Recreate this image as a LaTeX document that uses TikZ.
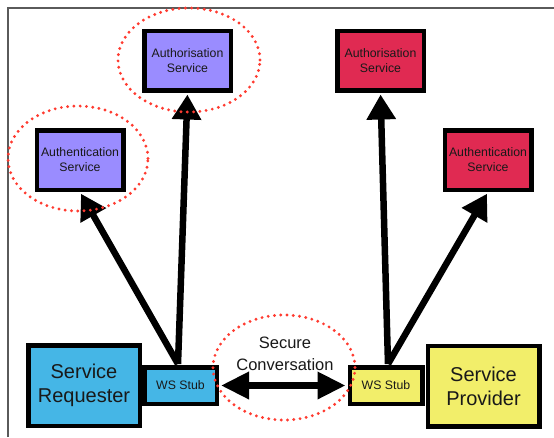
\documentclass[tikz,border=0pt]{standalone}
\usepackage{fontspec}
\setmainfont{Liberation Sans}
\usetikzlibrary{arrows.meta}
\definecolor{violetbox}{HTML}{9A8CFF}
\definecolor{redbox}{HTML}{E02A52}
\definecolor{cyanbox}{HTML}{45B6E6}
\definecolor{yellowbox}{HTML}{F2EE6A}
\definecolor{dotred}{HTML}{FF3B30}
\definecolor{framegray}{HTML}{5A5A5A}
\begin{document}
\begin{tikzpicture}[x=1pt,y=-1pt,
  box/.style={draw=black, line width=4.5pt, inner sep=0pt, align=center, text=black!90},
  smallbox/.style={box, minimum width=86.5pt, minimum height=59.5pt, font=\fontsize{12.3}{15}\selectfont},
  bigbox/.style={box, minimum width=111.5pt, minimum height=80.5pt, font=\fontsize{20}{24}\selectfont},
  stubbox/.style={box, minimum width=72.5pt, minimum height=36.5pt, font=\fontsize{12.3}{14}\selectfont},
  bigarrow/.style={line width=6.5pt, -{Triangle[length=25pt,width=28pt]}, shorten >=2pt},
  dblarrow/.style={line width=6.5pt, {Triangle[length=28pt,width=26pt]}-{Triangle[length=28pt,width=26pt]}, shorten >=2pt, shorten <=2pt},
  dotring/.style={draw=dotred, line width=3.2pt, line cap=round, dash pattern=on 0pt off 6.3pt},
  framestyle/.style={draw=framegray, line width=1.3pt}
]
\useasboundingbox (0,0) rectangle (554,437);
% frame
\coordinate (fbl) at (8,437);
\coordinate (ftl) at (8,8);
\coordinate (ftr) at (554,8);
\draw[framestyle] (fbl) -- (ftl) -- (ftr);

% service boxes
\node[smallbox, fill=violetbox] (authzL) at (187.5,60.5) {Authorisation\\Service};
\node[smallbox, fill=violetbox] (authnL) at (80,160) {Authentication\\Service};
\node[smallbox, fill=redbox] (authzR) at (380.5,60.5) {Authorisation\\Service};
\node[smallbox, fill=redbox] (authnR) at (488,160) {Authentication\\Service};

% requester / provider
\node[bigbox, fill=cyanbox] (req) at (84,385.5) {Service\\Requester};
\node[stubbox, fill=cyanbox] (lstub) at (180.5,385.5) {WS Stub};
\node[stubbox, fill=yellowbox] (rstub) at (386,385.5) {WS Stub};
\node[bigbox, fill=yellowbox] (prov) at (483.5,386) {Service\\Provider};

% arrow origins
\coordinate (ls) at (178,364);
\coordinate (rs) at (388,364);

\draw[bigarrow] (ls) -- (authnL.south);
\draw[bigarrow] (ls) -- (authzL.south);
\draw[bigarrow] (rs) -- (authzR.south);
\draw[bigarrow] (rs) -- (authnR.south);

% secure conversation
\draw[dblarrow] (lstub.east) -- (rstub.west);
\node[align=center, font=\fontsize{16.5}{22}\selectfont, text=black!90] (sc) at (285,354) {Secure\\Conversation};

% dotted rings
\draw[dotring] (189,60) ellipse [x radius=71pt, y radius=52pt];
\draw[dotring] (78,158.5) ellipse [x radius=70pt, y radius=52.5pt];
\draw[dotring] (284,367.5) ellipse [x radius=71pt, y radius=52.5pt];
\end{tikzpicture}
\end{document}
